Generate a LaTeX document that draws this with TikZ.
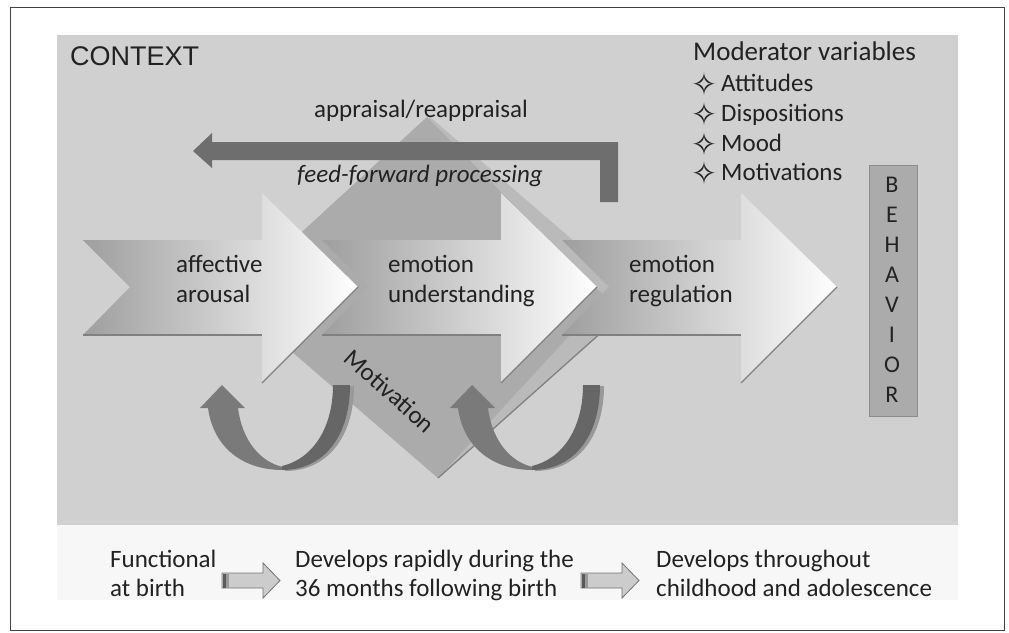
\documentclass[tikz,border=0pt]{standalone}
\usepackage{fontspec}
\setmainfont{Carlito}
\newfontfamily\arialf{Liberation Sans}
\newfontfamily\dejavu{DejaVu Sans}
\definecolor{ctxgray}{HTML}{D0D0D1}
\definecolor{strip}{HTML}{F7F7F7}
\definecolor{diaLight}{HTML}{BABABA}
\definecolor{diaDark}{HTML}{ABABAB}
\definecolor{barcol}{HTML}{6E6E6E}
\definecolor{txtcol}{HTML}{222222}
\begin{document}
\begin{tikzpicture}[x=1pt,y=-1pt,
  txt/.style={inner sep=0pt, anchor=base west, text=txtcol, font=\fontsize{25}{30}\selectfont},
  ctr/.style={inner sep=0pt, anchor=base, text=txtcol, font=\fontsize{25}{30}\selectfont},
  star/.style={inner sep=0pt, anchor=center, text height=22pt, text depth=0pt, text=txtcol, font=\dejavu\fontsize{31}{34}\selectfont},
  bigarrow/.style={left color=black!38, right color=white},
  edgeline/.style={draw=black!50, line width=1.3pt},
  smallarrow/.style={fill=black!20, draw=black!55, line width=0.8pt},
  letter/.style={inner sep=0pt, anchor=center, text=txtcol, font=\fontsize{24}{28}\selectfont}
]
\fill[white] (0,0) rectangle (1009,632);
\useasboundingbox (0,0) rectangle (1009,632);
% frame
\draw[black!75, line width=1pt] (10,7) rectangle (1004,630);
% context panel
\fill[ctxgray] (57,35) rectangle (958,525);
\fill[strip] (57,525) rectangle (958,600);
\node[inner sep=0pt, anchor=base west, text=txtcol, font=\arialf\fontsize{27}{32}\selectfont] (ctx) at (70,65) {CONTEXT};

% diamond (motivation)
\fill[diaLight] (430,117) -- (640,298) -- (438,478) -- (230,298) -- cycle;
\fill[diaDark] (427,117) -- (605,297) -- (438,478) -- (230,298) -- cycle;
\draw[edgeline] (640,298) -- (438,478);

% appraisal bar
\fill[barcol] (193,151) -- (212,133) -- (212,142) -- (618,142) -- (618,202) -- (600,202) -- (600,160) -- (212,160) -- (212,168) -- cycle;
\node[ctr] (appr) at (421,117) {appraisal/reappraisal};
\node[ctr, font=\itshape\fontsize{25}{30}\selectfont] (ffp) at (420,182) {feed-forward processing};

% big arrows (drawn right to left)
\foreach \dx in {479,239,0}{
  \begin{scope}[xshift=\dx]
    \shade[bigarrow] (83,240) -- (262,240) -- (262,193) -- (358,287) -- (262,383) -- (262,335) -- (83,335) -- (130,287) -- cycle;
    \draw[edgeline] (83,335) -- (262,335);
    \draw[edgeline] (262,383) -- (358,287);
  \end{scope}
}
\node[txt] (aa1) at (176,272) {affective};
\node[txt] (aa2) at (176,302) {arousal};
\node[txt] (eu1) at (388,272) {emotion};
\node[txt] (eu2) at (388,302) {understanding};
\node[txt] (er1) at (629,272) {emotion};
\node[txt] (er2) at (629,302) {regulation};

% curved arrows
\foreach \dx in {0,250}{
  \begin{scope}[xshift=\dx]
    \fill[black!40] (285,471) .. controls (328,471) and (354,436) .. (354,386) -- (336,386) .. controls (336,426) and (318,459) .. (285,467) -- cycle;
    \fill[black!52] (222,385) -- (245,408) -- (238,408) .. controls (242,440) and (260,462) .. (283,467) -- (283,470) .. controls (240,470) and (213,445) .. (208,408) -- (200,408) -- cycle;
    \fill[black!60] (282,470) .. controls (325,470) and (350,435) .. (350,385) -- (333,385) .. controls (333,425) and (315,458) .. (282,466) -- cycle;
  \end{scope}
}
\node[inner sep=0pt, text=txtcol, rotate=-42, font=\fontsize{25}{30}\selectfont] (mot) at (390,391) {Motivation};

% moderator variables
\node[txt, font=\fontsize{27}{32}\selectfont] (modv) at (693,60) {Moderator variables};
\node[star] (s1) at (704,84) {✧};
\node[txt] (m1) at (721,91) {Attitudes};
\node[star] (s2) at (704,114) {✧};
\node[txt] (m2) at (721,121) {Dispositions};
\node[star] (s3) at (704,144) {✧};
\node[txt] (m3) at (721,151) {Mood};
\node[star] (s4) at (704,173) {✧};
\node[txt] (m4) at (721,180) {Motivations};

% behavior box
\node[draw=black!45, fill=black!33, line width=1pt, minimum width=48, minimum height=251, inner sep=0pt] (beh) at (893,290.5) {};
\foreach \l [count=\i from 0] in {B,E,H,A,V,I,O,R}{
  \node[letter] (b\i) at (892,185+30*\i) {\l};
}

% bottom development line
\node[txt] (f1) at (110,567) {Functional};
\node[txt] (f2) at (110,596) {at birth};
\node[txt] (d1) at (295,567) {Develops rapidly during the};
\node[txt] (d2) at (295,596) {36 months following birth};
\node[txt] (t1) at (656,567) {Develops throughout};
\node[txt] (t2) at (656,596) {childhood and adolescence};
\foreach \dx in {0,359}{
  \begin{scope}[xshift=\dx]
    \filldraw[smallarrow] (222,573) -- (263,573) -- (263,563) -- (280,580.5) -- (263,598) -- (263,588) -- (222,588) -- cycle;
    \fill[black!65] (222.5,573.5) rectangle (226,587.5);
    \fill[black!40] (226,573.5) rectangle (228.5,587.5);
  \end{scope}
}
\end{tikzpicture}
\end{document}
